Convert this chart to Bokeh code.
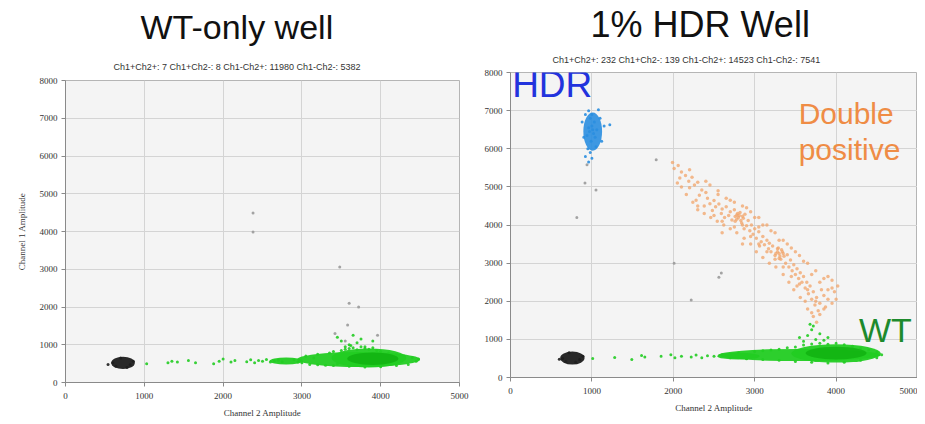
from bokeh.plotting import figure
from bokeh.models import Range1d, Title, Label, FixedTicker
from bokeh.layouts import row, column
from bokeh.embed import file_html
from bokeh.resources import INLINE

# ---------------- data ----------------
X_TICKS = [0, 1000, 2000, 3000, 4000, 5000]
Y_TICKS = [0, 1000, 2000, 3000, 4000, 5000, 6000, 7000, 8000]

L_TITLE = "WT-only well"
L_SUB = "Ch1+Ch2+: 7  Ch1+Ch2-: 8  Ch1-Ch2+: 11980  Ch1-Ch2-: 5382"
R_TITLE = "1% HDR Well"
R_SUB = "Ch1+Ch2+: 232  Ch1+Ch2-: 139  Ch1-Ch2+: 14523  Ch1-Ch2-: 7541"

# dense cluster cores: (x, y, width, height)
L_NEG_CORE = [(730, 520, 300, 330)]
L_WT_CORE = [(3720, 610, 1560, 400), (3850, 650, 950, 500), (2800, 570, 420, 190)]
L_WT_DENSE = [(3900, 630, 650, 330)]

R_NEG_CORE = [(760, 510, 300, 340)]
R_WT_CORE = [(3550, 590, 2000, 320), (4000, 630, 1100, 480), (2800, 560, 520, 180)]
R_WT_DENSE = [(4000, 640, 750, 330)]
R_HDR_CORE = [(1010, 6450, 230, 1000)]

# sparse droplets
L_NEG_PTS = [(600, 520), (640, 430), (820, 470), (860, 560), (700, 650), (780, 400), (540, 480)]
L_WT_PTS = [(1030, 500), (1300, 520), (1350, 560), (1420, 540), (1560, 580), (1650, 520),
            (1880, 500), (1950, 560), (2000, 620), (2100, 540), (2150, 580), (2300, 550),
            (2350, 600), (2400, 520), (2450, 580), (2500, 560), (2550, 610), (2600, 540),
            (2650, 570), (2700, 590), (2750, 550), (2900, 600), (2950, 540),
            (3000, 520), (3050, 700), (3100, 480), (3150, 650), (3200, 750), (3300, 460),
            (3350, 780), (3400, 820), (3450, 500), (3500, 850), (3550, 880), (3600, 900),
            (3650, 920), (3700, 870), (3750, 950), (3800, 900), (3850, 880), (3900, 920),
            (3950, 850), (4000, 820), (4100, 780), (4200, 740), (4300, 700), (4400, 660),
            (4480, 620), (4450, 560), (4350, 480), (4200, 450), (4000, 420), (3800, 410),
            (3600, 430), (3400, 450), (3200, 470),
            (3500, 1100), (3550, 950), (3600, 1000), (3650, 1250), (3450, 1200),
            (3700, 1050), (3800, 950), (3900, 1100), (3620, 980), (3750, 1150)]
L_OUT_PTS = [(2380, 4490), (2380, 3990), (3480, 3060), (3600, 2100), (3720, 2000),
             (3580, 1520), (3960, 1250), (3420, 1300), (3550, 1100)]

R_NEG_PTS = [(640, 500), (680, 420), (850, 470), (890, 560), (720, 650), (800, 400), (600, 480)]
R_WT_PTS = [(1010, 500), (1280, 525), (1490, 470), (1610, 580), (1650, 540), (1850, 560),
            (1970, 600), (2020, 520), (2100, 560), (2220, 540), (2280, 590), (2350, 520),
            (2420, 570), (2500, 560), (2600, 600), (2700, 520), (2800, 640), (2900, 500),
            (3000, 680), (3100, 700), (3200, 720), (3300, 740), (3400, 780), (3500, 800),
            (3600, 850), (3700, 880), (3800, 900), (3900, 870), (4000, 900), (4100, 860),
            (4200, 820), (4300, 760), (4400, 720), (4500, 660), (4560, 600), (4500, 520),
            (4300, 450), (4100, 400), (3900, 380), (3700, 400), (3500, 420), (3300, 450),
            (3100, 470), (2900, 490),
            (3600, 950), (3650, 1100), (3700, 1250), (3750, 1000), (3800, 1150),
            (3550, 1050), (3850, 980), (3680, 1400), (3720, 1350), (3900, 1050)]
R_HDR_PTS = [(920, 6900), (960, 7000), (1080, 7020), (1100, 6800), (1150, 6600), (880, 6700),
             (900, 6300), (1120, 6200), (950, 6000), (1050, 6050), (980, 5900), (920, 5800),
             (1000, 5750), (960, 5650), (1220, 6630), (980, 6800), (1000, 6600), (1020, 6400),
             (990, 6200), (1010, 6500), (970, 6450), (1030, 6700), (1040, 6300), (960, 6550),
             (1000, 6900), (1060, 6500), (940, 6350)]
R_DP_PTS = [(1990, 5640), (2010, 5480), (2060, 5560), (2100, 5390), (2080, 5230),
            (2150, 5300), (2190, 5150), (2230, 5250), (2260, 5050), (2200, 4980), (2300, 5120),
            (2350, 4920), (2320, 4780), (2280, 4650), (2400, 4850), (2420, 4700), (2450, 4560),
            (2380, 4500), (2500, 4640), (2520, 4480), (2480, 4380), (2560, 4550), (2600, 4420),
            (2590, 4300), (2630, 4200), (2650, 4480), (2700, 4350), (2680, 4250), (2720, 4130),
            (2750, 4400), (2780, 4260), (2760, 4100), (2800, 4200), (2820, 4330), (2840, 4050),
            (2860, 4180), (2880, 4280), (2900, 3980), (2870, 3900), (2920, 4120), (2940, 3850),
            (2960, 4000), (2980, 3760), (3000, 3900), (3020, 3650), (3050, 3820), (3080, 3560),
            (3060, 3450), (3100, 3700), (3120, 3480), (3150, 3600), (3170, 3380), (3200, 3300),
            (3180, 3520), (3220, 3450), (3250, 3200), (3280, 3380), (3300, 3250), (3320, 3100),
            (3340, 3300), (3360, 3180), (3380, 3000), (3400, 3220), (3420, 2900), (3440, 3080),
            (3460, 2800), (3480, 2960), (3500, 2700), (3520, 2850), (3540, 2600), (3560, 2750),
            (3580, 2500), (3600, 2650), (3620, 2350), (3640, 2500), (3660, 2200), (3680, 2400),
            (3700, 2050), (3720, 2250), (3740, 1900), (3760, 2100), (3780, 1750), (3800, 1950),
            (3820, 2300), (3850, 2150), (3870, 1850), (3900, 2050), (3950, 2550), (3980, 2250),
            (3720, 1600), (3760, 1450), (3800, 1650), (3650, 1800), (3560, 2100), (3480, 2300),
            (3420, 2500), (3350, 2700), (3260, 2900), (3180, 3000), (3100, 3150), (3020, 3300),
            (2950, 3500), (2870, 3650), (2780, 3800), (2700, 3900), (2620, 4000), (2540, 4100),
            (2460, 4200), (2380, 4300), (2300, 4400), (2240, 4600), (2160, 4800), (2100, 5000),
            (2450, 5050), (2550, 4900), (2650, 4700), (2750, 4600), (2850, 4500), (2950, 4350),
            (3050, 4200), (3150, 4000), (3250, 3800), (3350, 3600), (3450, 3400), (3550, 3200),
            (3650, 3000), (3750, 2800), (3850, 2600), (3950, 2350), (4000, 2050),
            (2780, 4150), (2810, 4250), (2830, 4120), (2790, 4300), (2760, 4220), (2850, 4230),
            (3280, 3300), (3310, 3180), (3330, 3350), (3260, 3250), (3350, 3250), (3300, 3120),
            (3290, 3400),
            (2050, 5100), (2200, 5450), (2300, 4500), (2400, 5150), (2500, 4250), (2550, 4800),
            (2600, 4100), (2700, 4650), (2750, 3950), (2850, 4000), (2900, 4450), (2950, 3700),
            (3000, 4200), (3050, 3500), (3100, 4000), (3150, 3300), (3200, 3850), (3250, 3100),
            (3300, 3600), (3350, 2900), (3400, 3500), (3450, 2650), (3500, 3300), (3550, 2450),
            (3600, 3050), (3650, 2300), (3700, 2700), (3750, 2000), (3800, 2500), (3850, 1800),
            (3900, 2300), (3950, 1950), (3700, 1700), (3620, 2000), (3520, 2400), (3900, 2650),
            (4020, 2400), (3050, 3950), (2600, 3800), (2850, 3500)]
R_OUT_PTS = [(915, 5100), (1050, 4920), (815, 4200), (940, 5580), (1790, 5710),
             (2010, 3000), (2220, 2030), (2590, 2740), (2560, 2630)]

# ---------------- styling ----------------
NEG_C = "#1e1e1e"
WT_C = "#22cc22"
WT_DARK = "#10b010"
HDR_C = "#2a8ee0"
DP_C = "#f2a46a"
OUT_C = "#9a9a9a"
SANS = "Liberation Sans"
SERIF = "Liberation Serif"


def xs(pts):
    return [p[0] for p in pts]


def ys(pts):
    return [p[1] for p in pts]


def cores(p, blobs, color, alpha=1.0):
    p.ellipse(x=[b[0] for b in blobs], y=[b[1] for b in blobs],
              width=[b[2] for b in blobs], height=[b[3] for b in blobs],
              fill_color=color, fill_alpha=alpha, line_color=None)


def dots(p, pts, color, size=3, alpha=0.9):
    p.scatter(xs(pts), ys(pts), size=size, marker="circle", fill_color=color,
              line_color=None, fill_alpha=alpha)


def panel(title, sub, fw, fh, bl, br, bb, bt, title_off, sub_off, sub_stand, big_stand,
          big_size, ylabel):
    p = figure(output_backend="svg", toolbar_location=None,
               frame_width=fw, frame_height=fh,
               x_range=Range1d(0, 5000), y_range=Range1d(0, 8000),
               min_border_left=bl, min_border_right=br, min_border_bottom=bb,
               min_border_top=bt, title=title)
    p.title.text_font = SANS
    p.title.text_font_size = big_size
    p.title.text_font_style = "normal"
    p.title.text_color = "#111111"
    p.title.align = "left"
    p.title.offset = title_off
    p.title.standoff = big_stand
    small = Title(text=sub, text_font=SANS, text_font_size="9px",
                  text_font_style="normal", text_color="#333333",
                  align="left", offset=sub_off, standoff=sub_stand)
    p.add_layout(small, "above")

    p.background_fill_color = "#f4f4f4"
    p.border_fill_color = "white"
    p.outline_line_color = "#b5b5b5"
    p.grid.grid_line_color = "#d4d4d4"
    p.xaxis.ticker = FixedTicker(ticks=X_TICKS)
    p.yaxis.ticker = FixedTicker(ticks=Y_TICKS)
    for ax in (p.xaxis[0], p.yaxis[0]):
        ax.axis_line_color = "#8a8a8a"
        ax.major_tick_line_color = "#8a8a8a"
        ax.major_tick_out = 4
        ax.major_tick_in = 0
        ax.minor_tick_line_color = None
        ax.major_label_text_font = SERIF
        ax.major_label_text_font_size = "9px"
        ax.major_label_text_color = "#333333"
        ax.axis_label_text_font = SERIF
        ax.axis_label_text_font_size = "9px"
        ax.axis_label_text_font_style = "normal"
        ax.axis_label_text_color = "#333333"
    p.xaxis.axis_label = "Channel 2 Amplitude"
    p.xaxis.axis_label_standoff = 6
    p.xaxis.major_label_standoff = 6
    if ylabel:
        p.yaxis.axis_label = "Channel 1 Amplitude"
        p.yaxis.axis_label_standoff = 10
    p.yaxis.major_label_standoff = 4
    return p


# ---------------- left panel ----------------
p1 = panel(L_TITLE, L_SUB, 394, 302, 65, 11, 34, 80, 75, 48, 18, 9, "34px", True)
cores(p1, L_NEG_CORE, NEG_C, 0.95)
dots(p1, L_NEG_PTS, NEG_C)
dots(p1, L_OUT_PTS, OUT_C)
dots(p1, L_WT_PTS, WT_C)
cores(p1, L_WT_CORE, WT_C, 0.95)
cores(p1, L_WT_DENSE, WT_DARK, 0.8)

# ---------------- right panel ----------------
p2 = panel(R_TITLE, R_SUB, 407, 305, 40, 0, 39, 72, 80, 42, 15, 2, "36px", False)
cores(p2, R_NEG_CORE, NEG_C, 0.95)
dots(p2, R_NEG_PTS, NEG_C)
dots(p2, R_OUT_PTS, OUT_C)
dots(p2, R_DP_PTS, DP_C, size=3.5, alpha=0.75)
dots(p2, R_WT_PTS, WT_C)
cores(p2, R_WT_CORE, WT_C, 0.95)
cores(p2, R_WT_DENSE, WT_DARK, 0.8)
cores(p2, R_HDR_CORE, HDR_C, 0.9)
dots(p2, R_HDR_PTS, HDR_C)

p2.add_layout(Label(x=20, y=7150, text="HDR", text_font=SANS, text_font_size="37px",
                    text_color="#2233dd"))
p2.add_layout(Label(x=3540, y=6480, text="Double", text_font=SANS, text_font_size="30px",
                    text_color="#ef8c45"))
p2.add_layout(Label(x=3540, y=5540, text="positive", text_font=SANS, text_font_size="30px",
                    text_color="#ef8c45"))
p2.add_layout(Label(x=4280, y=760, text="WT", text_font=SANS, text_font_size="34px",
                    text_color="#1d8a2c"))

layout = row(column(p1), column(p2))
open("out.html", "w").write(file_html(layout, INLINE))
